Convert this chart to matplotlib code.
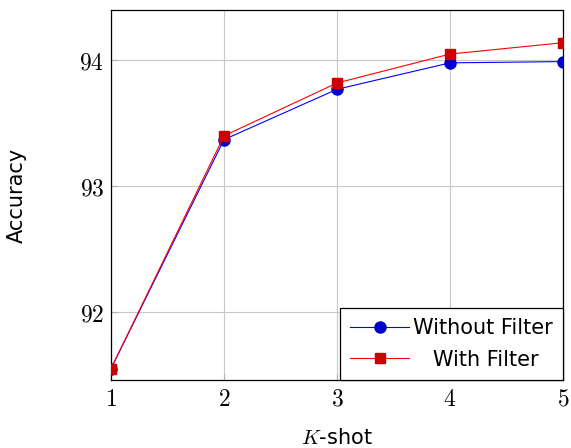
import matplotlib
matplotlib.use("Agg")
import matplotlib.pyplot as plt
from matplotlib.ticker import FixedLocator, FuncFormatter

plt.rcParams['mathtext.fontset'] = 'cm'
plt.rcParams['font.family'] = ['DejaVu Sans']

# K-shot values
shots = [1, 2, 3, 4, 5]
# accuracy
acc_without = [91.55, 93.37, 93.77, 93.98, 93.99]
acc_with = [91.55, 93.40, 93.82, 94.05, 94.14]
y_ticks = [92, 93, 94]

fig = plt.figure(figsize=(5.71, 4.48), dpi=100)
ax = fig.add_axes([0.1944, 0.1518, 0.7916, 0.8259])

ax.plot(shots, acc_without, color=(0, 0, 1), lw=0.8, marker='o', ms=8,
        mfc=(0, 0, 0.8), mec=(0, 0, 0.8), label='Without Filter', zorder=3)
ax.plot(shots, acc_with, color=(1, 0, 0), lw=0.8, marker='s', ms=7.5,
        mfc=(0.8, 0, 0), mec=(0.8, 0, 0), label='   With Filter', zorder=4)

ax.set_xlim(1, 5)
ax.set_ylim(91.46, 94.4)
ax.xaxis.set_major_locator(FixedLocator(shots))
ax.yaxis.set_major_locator(FixedLocator(y_ticks))
ax.xaxis.set_major_formatter(FuncFormatter(lambda v, p: f'${int(v)}$'))
ax.yaxis.set_major_formatter(FuncFormatter(lambda v, p: f'${int(v)}$'))
ax.tick_params(direction='in', length=4, color='#b0b0b0', labelsize=17, pad=5)
ax.grid(True, color='#c8c8c8', lw=0.8)
ax.set_axisbelow(True)
for s in ax.spines.values():
    s.set_linewidth(0.9)

ax.set_xlabel(r'$K$-shot', fontsize=15, labelpad=12)
ax.set_ylabel('Accuracy', fontsize=15, labelpad=38)

leg = ax.legend(loc='lower right', fontsize=15, borderaxespad=0, fancybox=False,
                framealpha=1, edgecolor='black', handlelength=2.8,
                handletextpad=0.2, borderpad=0.5, labelspacing=0.55)
leg.get_frame().set_linewidth(0.9)

fig.savefig('out.png', dpi=100)
